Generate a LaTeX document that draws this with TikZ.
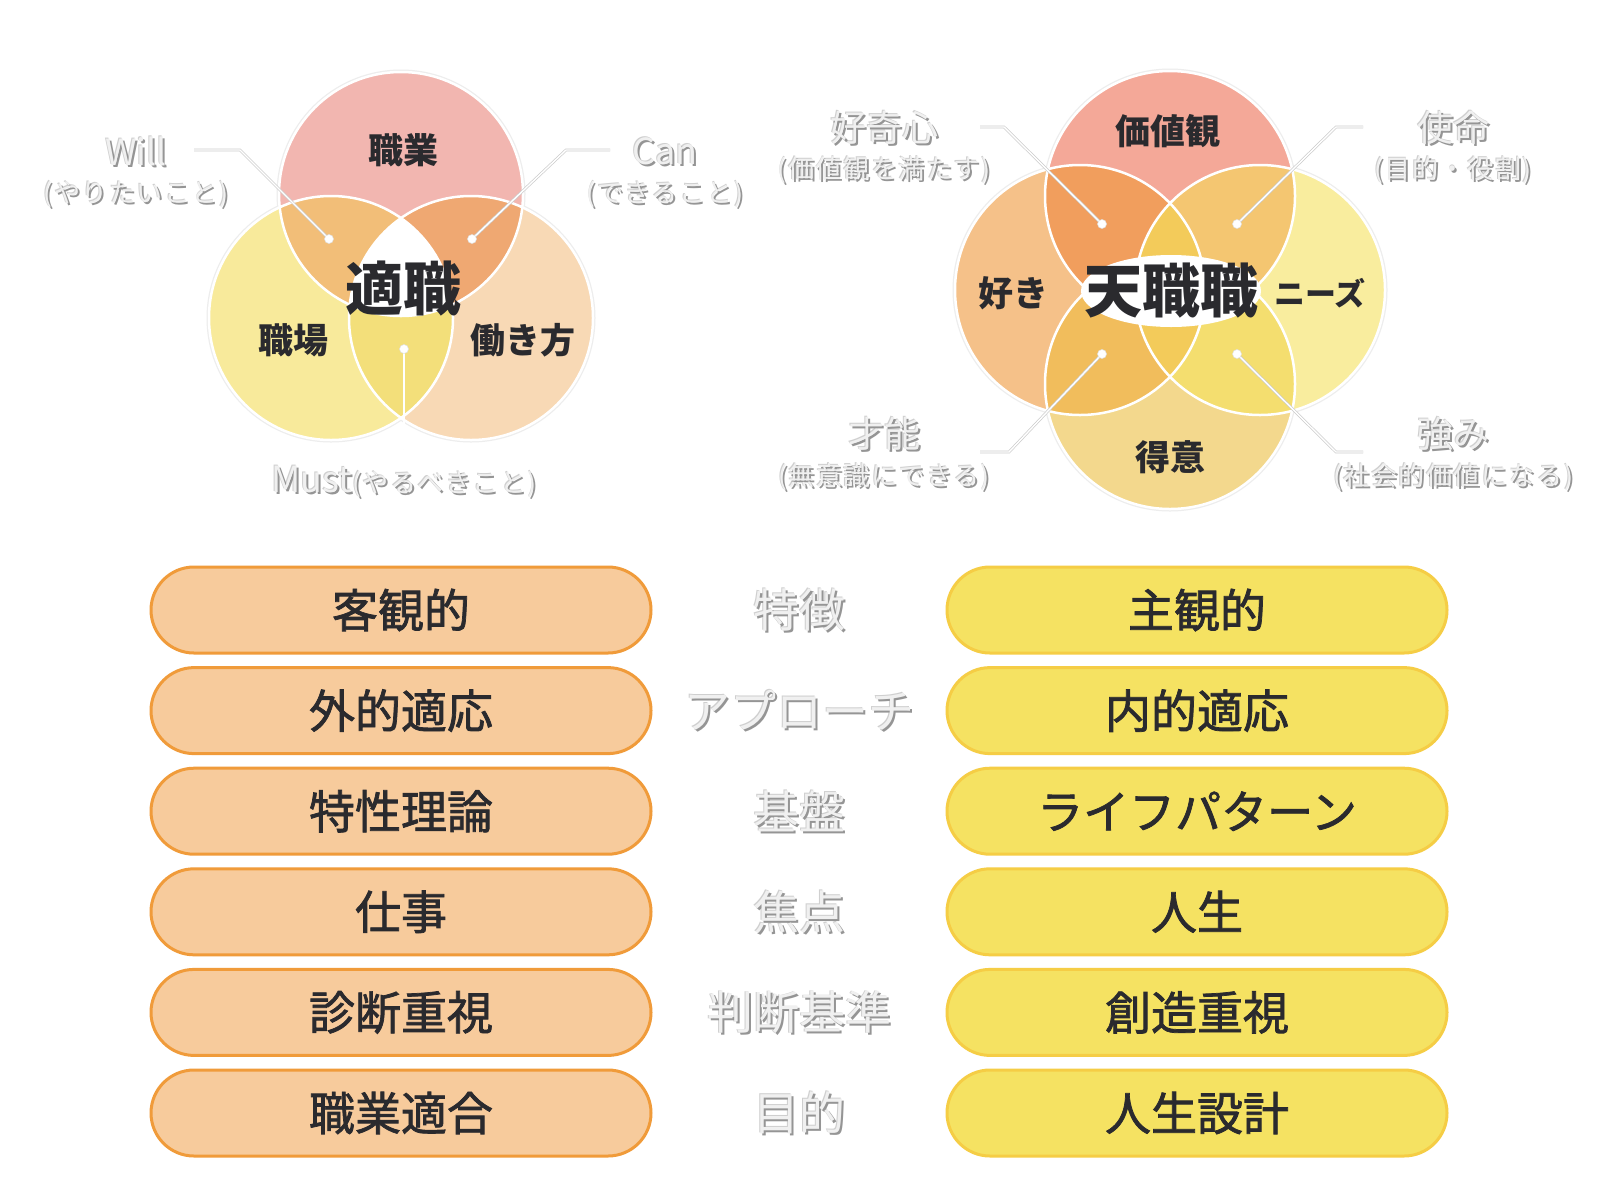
\documentclass[tikz,border=0pt]{standalone}
\usepackage{fontspec}
\setmainfont{Noto Sans CJK JP}
\newfontfamily\boxfont{Noto Sans CJK JP}[FakeBold=1.6]
\newfontfamily\subfont{Noto Sans CJK JP}[LetterSpace=6]

\definecolor{ink}{HTML}{2A2A2E}
\definecolor{softfg}{HTML}{F0F0F0}
\definecolor{softbg}{HTML}{959595}
% 適職 colours
\definecolor{lTop}{HTML}{F2B6B0}
\definecolor{lLeft}{HTML}{F8EA9B}
\definecolor{lRight}{HTML}{F8D9B5}
\definecolor{lTL}{HTML}{F2BE78}
\definecolor{lTR}{HTML}{EFA872}
\definecolor{lLR}{HTML}{F3DF7A}
% 天職 colours
\definecolor{rTop}{HTML}{F4A898}
\definecolor{rLeft}{HTML}{F5C189}
\definecolor{rRight}{HTML}{F9ED9E}
\definecolor{rBot}{HTML}{F3D88D}
\definecolor{rTL}{HTML}{F19E5D}
\definecolor{rTR}{HTML}{F4C671}
\definecolor{rLB}{HTML}{F1BD5C}
\definecolor{rRB}{HTML}{F4DE6F}
\definecolor{rMid}{HTML}{F3CB5A}
% table colours
\definecolor{boxL}{HTML}{F7CB9C}
\definecolor{boxLline}{HTML}{F09B3A}
\definecolor{boxR}{HTML}{F5E262}
\definecolor{boxRline}{HTML}{F5CD45}

% light label with a soft shadow: name, x/y, font, text
\newcommand{\softtext}[4]{%
  \node[text=softbg!45, font={#3}] at ([shift={(-0.8,-0.8)}]#2) {#4};
  \node[text=softbg, font={#3}] at ([shift={(2,2)}]#2) {#4};
  \node[text=softfg, font={#3}] (#1) at (#2) {#4};}
\newcommand{\mainsize}{\fontsize{36}{36}\selectfont}
\newcommand{\subsize}{\subfont\fontsize{26}{26}\selectfont}

\begin{document}
\begin{tikzpicture}[x=1pt, y=-1pt, every node/.style={inner sep=0pt},
    ring/.style={draw=white, line width=2.5pt},
    halo/.style={draw=black!7, line width=5pt},
    leader/.style={draw=white, line width=1.4pt, preaction={draw=black!20, line width=2.8pt}},
    dot/.style={circle, fill=white, draw=black!12, line width=0.5pt, minimum size=9pt},
    inlabel/.style={text=ink, font=\bfseries\fontsize{35}{35}\selectfont},
    biglabel/.style={text=ink, font=\bfseries\fontsize{58}{58}\selectfont},
    pill/.style={rounded corners=43pt, minimum width=500pt, minimum height=86pt, line width=3pt,
      text=ink, font=\boxfont\fontsize{46}{46}\selectfont},
    leftbox/.style={pill, fill=boxL, draw=boxLline},
    rightbox/.style={pill, fill=boxR, draw=boxRline}]
  \fill[white] (0,0) rectangle (1600,1200);
  \useasboundingbox (0,0) rectangle (1600,1200);

  % 適職 (3つの円)
  \coordinate (Lt) at (401,194);
  \coordinate (Ll) at (331,318);
  \coordinate (Lr) at (471,318);
  \foreach \c in {Lt,Ll,Lr} \draw[halo] (\c) circle (122pt);
  \fill[lTop] (Lt) circle (122pt);
  \fill[lLeft] (Ll) circle (122pt);
  \fill[lRight] (Lr) circle (122pt);
  \begin{scope}
    \clip (Lt) circle (122pt);
    \fill[lTL] (Ll) circle (122pt);
    \fill[lTR] (Lr) circle (122pt);
  \end{scope}
  \begin{scope}
    \clip (Ll) circle (122pt);
    \fill[lLR] (Lr) circle (122pt);
    \clip (Lr) circle (122pt);
    \fill[white] (Lt) circle (122pt);
  \end{scope}
  \foreach \c in {Lt,Ll,Lr} \draw[ring] (\c) circle (122pt);

  \node[inlabel] (shokugyo) at (403,150) {職業};
  \node[inlabel] (shokuba) at (293,340) {職場};
  \node[inlabel] (hatarakikata) at (523,340) {働き方};
  \node[biglabel] (tekishoku) at (403,289) {適職};

  % Will / Can / Must
  \softtext{will}{136,151}{\mainsize}{Will}
  \softtext{willsub}{136,194}{\subsize}{(やりたいこと)}
  \softtext{can}{665,151}{\mainsize}{Can}
  \softtext{cansub}{665,194}{\subsize}{(できること)}
  \softtext{must}{404,482}{\mainsize}{Must{\subsize(やるべきこと)}}

  \coordinate (willend) at (194,150);
  \coordinate (willbend) at (240,150);
  \coordinate (willpt) at (329,239);
  \coordinate (canend) at (610,150);
  \coordinate (canbend) at (566,150);
  \coordinate (canpt) at (472,239);
  \coordinate (mustend) at (404,449);
  \coordinate (mustpt) at (404,349);
  \draw[leader] (willend) -- (willbend) -- (willpt);
  \draw[leader] (canend) -- (canbend) -- (canpt);
  \draw[leader] (mustend) -- (mustpt);
  \node[dot] (willdot) at (willpt) {};
  \node[dot] (candot) at (canpt) {};
  \node[dot] (mustdot) at (mustpt) {};

  % 天職 (4つの円)
  \coordinate (Rt) at (1170,196);
  \coordinate (Rl) at (1080,290);
  \coordinate (Rr) at (1260,290);
  \coordinate (Rb) at (1170,384);
  \foreach \c in {Rt,Rl,Rr,Rb} \draw[halo] (\c) circle (125pt);
  \fill[rTop] (Rt) circle (125pt);
  \fill[rLeft] (Rl) circle (125pt);
  \fill[rRight] (Rr) circle (125pt);
  \fill[rBot] (Rb) circle (125pt);
  \begin{scope}
    \clip (Rt) circle (125pt);
    \fill[rTL] (Rl) circle (125pt);
    \fill[rTR] (Rr) circle (125pt);
    \fill[rMid] (Rb) circle (125pt);
  \end{scope}
  \begin{scope}
    \clip (Rb) circle (125pt);
    \fill[rLB] (Rl) circle (125pt);
    \fill[rRB] (Rr) circle (125pt);
  \end{scope}
  \begin{scope}
    \clip (Rl) circle (125pt);
    \fill[rMid] (Rr) circle (125pt);
  \end{scope}
  \foreach \c in {Rt,Rl,Rr,Rb} \draw[ring] (\c) circle (125pt);
  \fill[white] (1171,291) ellipse [x radius=90pt, y radius=36pt];

  \node[inlabel] (kachikan) at (1168,131) {価値観};
  \node[inlabel] (suki) at (1013,293) {好き};
  \node[inlabel, font=\bfseries\fontsize{31}{31}\selectfont] (needs) at (1320,293) {ニーズ};
  \node[inlabel] (tokui) at (1170,457) {得意};
  \node[biglabel] (tenshoku) at (1171,291) {天職職};

  % 好奇心 / 使命 / 才能 / 強み
  \softtext{kokishin}{884,128}{\mainsize}{好奇心}
  \softtext{kokishinsub}{884,170}{\subsize}{(価値観を満たす)}
  \softtext{shimei}{1453,128}{\mainsize}{使命}
  \softtext{shimeisub}{1453,170}{\subsize}{(目的・役割)}
  \softtext{sainou}{884,434}{\mainsize}{才能}
  \softtext{sainousub}{884,477}{\subsize}{(無意識にできる)}
  \softtext{tsuyomi}{1453,434}{\mainsize}{強み}
  \softtext{tsuyomisub}{1453,477}{\subsize}{(社会的価値になる)}

  \coordinate (kokiend) at (980,127);
  \coordinate (kokibend) at (1004,127);
  \coordinate (kokipt) at (1102,224);
  \coordinate (shimeiend) at (1363,127);
  \coordinate (shimeibend) at (1336,127);
  \coordinate (shimeipt) at (1237,224);
  \coordinate (sainouend) at (980,452);
  \coordinate (sainoubend) at (1009,452);
  \coordinate (sainoupt) at (1102,354);
  \coordinate (tsuyomiend) at (1363,452);
  \coordinate (tsuyomibend) at (1336,452);
  \coordinate (tsuyomipt) at (1237,354);
  \draw[leader] (kokiend) -- (kokibend) -- (kokipt);
  \draw[leader] (shimeiend) -- (shimeibend) -- (shimeipt);
  \draw[leader] (sainouend) -- (sainoubend) -- (sainoupt);
  \draw[leader] (tsuyomiend) -- (tsuyomibend) -- (tsuyomipt);
  \node[dot] (kokidot) at (kokipt) {};
  \node[dot] (shimeidot) at (shimeipt) {};
  \node[dot] (sainoudot) at (sainoupt) {};
  \node[dot] (tsuyomidot) at (tsuyomipt) {};

  % 比較表
  \foreach \i/\l/\m/\r in {0/客観的/特徴/主観的, 1/外的適応/アプローチ/内的適応,
      2/特性理論/基盤/ライフパターン, 3/仕事/焦点/人生, 4/診断重視/判断基準/創造重視,
      5/職業適合/目的/人生設計} {
    \node[leftbox] (L\i) at (401,{610+100.6*\i}) {\l};
    \node[rightbox] (R\i) at (1197,{610+100.6*\i}) {\r};
    \softtext{M\i}{799,{610+100.6*\i}}{\fontsize{46}{46}\selectfont}{\m}
  }
\end{tikzpicture}
\end{document}
